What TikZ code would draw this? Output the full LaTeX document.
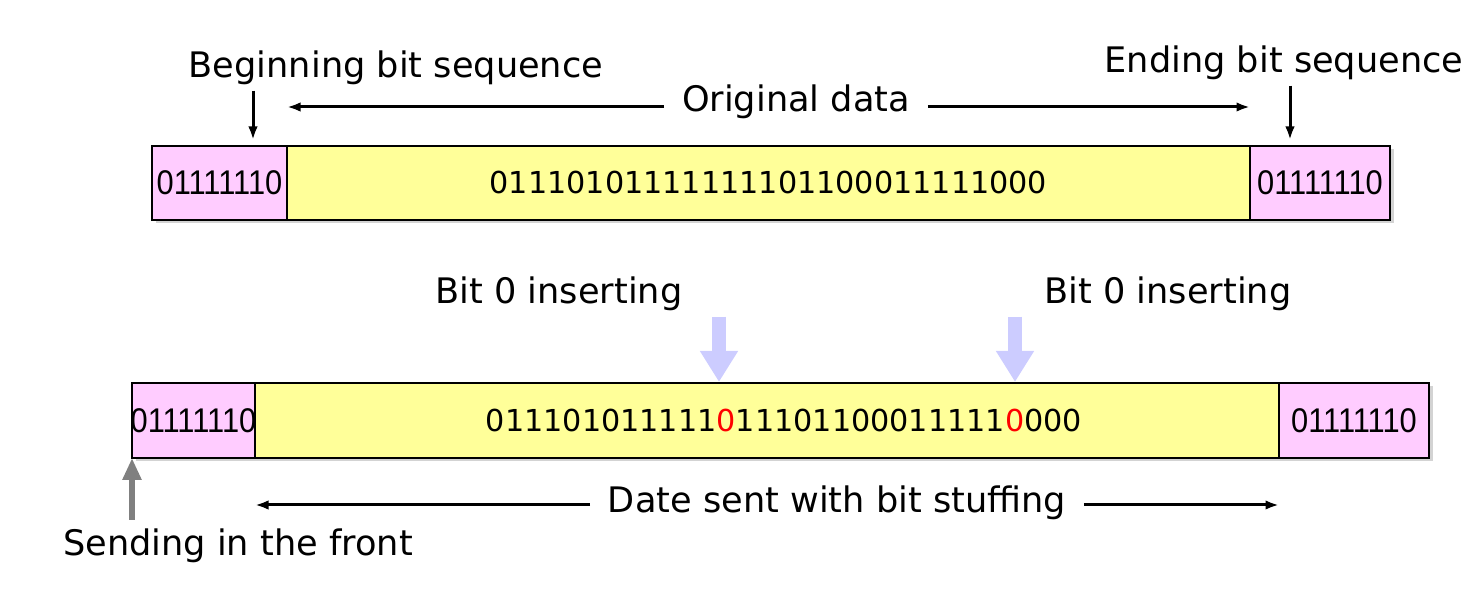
\documentclass[tikz,border=0pt]{standalone}
\usepackage{fontspec}
\setmainfont{DejaVu Sans}
\newfontfamily\bitfont[FakeStretch=0.9]{Liberation Sans}
\usetikzlibrary{positioning,arrows.meta,shadows}
\definecolor{flagpink}{RGB}{255,204,255}
\definecolor{datayellow}{RGB}{255,255,153}
\definecolor{lavender}{RGB}{204,204,255}

\begin{document}
\begin{tikzpicture}[
    box/.style={draw, line width=0.04cm, inner sep=0pt, outer sep=0pt, minimum height=1.48cm,
        drop shadow={shadow xshift=0.07cm, shadow yshift=-0.07cm, opacity=0.35}},
    flag/.style={box, fill=flagpink, font=\bitfont\fontsize{19.5}{22}\selectfont},
    data/.style={box, fill=datayellow, font=\fontsize{17.2}{20}\selectfont},
    lbl/.style={font=\fontsize{20}{24}\selectfont, inner sep=0.1cm},
    arr/.style={line width=0.06cm, -{Latex[length=0.27cm,width=0.19cm]}},
    ins/.style={draw=lavender, line width=0.28cm, -{Triangle[length=0.62cm,width=0.72cm]}},
    frontarr/.style={draw=black!50, line width=0.12cm, -{Triangle[length=0.44cm,width=0.36cm]}}
]
        \useasboundingbox (0,0) rectangle (29.58,-12.02);

        % original frame
        \node[flag, minimum width=2.7cm, anchor=north west] (b1) at (3.04,-2.92) {\makebox[0pt]{01111110}};
        \node[data, minimum width=19.26cm, right=0cm of b1] (d1) {01110101111111101100011111000};
        \node[flag, minimum width=2.8cm, right=0cm of d1] (e1) {\makebox[0pt]{01111110}};

        % stuffed frame
        \node[flag, minimum width=2.46cm, minimum height=1.5cm, anchor=north west] (b2) at (2.64,-7.66) {\makebox[0pt]{01111110}};
        \node[data, minimum width=20.48cm, minimum height=1.5cm, right=0cm of b2] (d2) {\hspace*{0.68cm}011101011111\textcolor{red}{0}11101100011111\textcolor{red}{0}000};
        \node[flag, minimum width=3cm, minimum height=1.5cm, right=0cm of d2] (e2) {01111110};

        \node[lbl, anchor=base] (lbeg) at (7.92,-1.56) {Beginning bit sequence};
        \node[lbl, anchor=base] (lend) at (25.68,-1.46) {Ending bit sequence};
        \node[lbl, anchor=base, inner xsep=0.35cm] (orig) at (15.92,-2.24) {Original data};
        \node[lbl, anchor=base] (lins1) at (11.18,-6.08) {Bit 0 inserting};
        \node[lbl, anchor=base] (lins2) at (23.36,-6.08) {Bit 0 inserting};
        \node[lbl, anchor=base, inner xsep=0.35cm] (sent) at (16.74,-10.26) {Date sent with bit stuffing};
        \node[lbl, anchor=base] (front) at (4.76,-11.12) {Sending in the front};

        \coordinate (bt) at (5.06,-2.8);
        \coordinate (et) at (25.8,-2.8);
        \coordinate (oy) at (15.92,-2.14);
        \coordinate (sy) at (16.74,-10.1);
        \coordinate (ins1) at (14.38,-7.64);
        \coordinate (ins2) at (20.3,-7.64);

        \draw[arr] (lbeg.south -| bt) -- (bt);
        \draw[arr] (lend.south -| et) -- (et);
        \draw[arr] (orig.west |- oy) -- (d1.west |- oy);
        \draw[arr] (orig.east |- oy) -- (d1.east |- oy);
        \draw[arr] (sent.west |- sy) -- (d2.west |- sy);
        \draw[arr] (sent.east |- sy) -- (d2.east |- sy);
        \draw[ins] (lins1.south -| ins1) -- (ins1);
        \draw[ins] (lins2.south -| ins2) -- (ins2);
        \draw[frontarr] ([yshift=0.08cm]front.north -| b2.south west) -- (b2.south west);
    \end{tikzpicture}
\end{document}
